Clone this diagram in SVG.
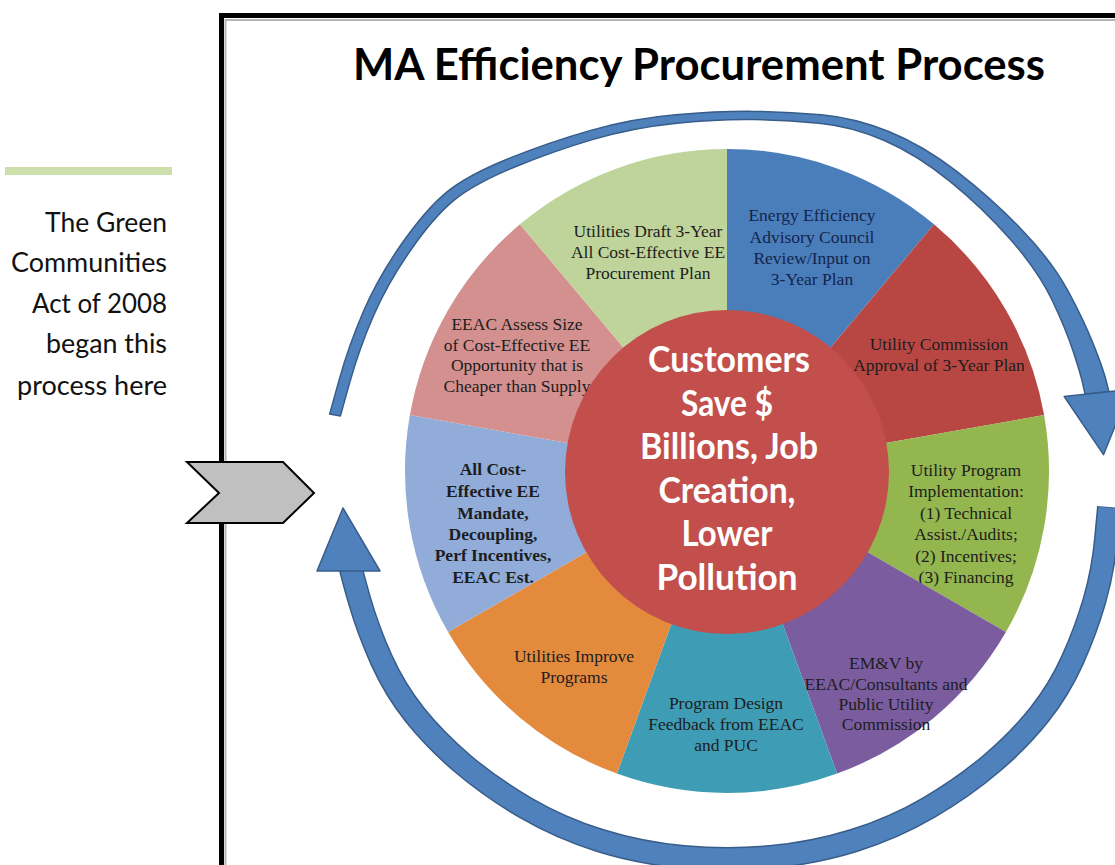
<svg xmlns="http://www.w3.org/2000/svg" width="1115" height="865" viewBox="0 0 1115 865">
  <defs>
    <style>
      .seg { font-family: "Liberation Serif", "Times New Roman", serif; font-size: 17.5px; fill: #1d1d1d; text-anchor: middle; }
      .seg.navy { fill: #15244a; }
      .seg.b { font-weight: bold; }
      .hub { font-family: Lato, "Open Sans", sans-serif; font-weight: 700; font-size: 36px; fill: #ffffff; text-anchor: middle; }
      .note { font-family: Lato, "Open Sans", sans-serif; font-size: 27px; fill: #111111; text-anchor: end; }
      .title { font-family: Lato, "Open Sans", sans-serif; font-weight: 700; font-size: 44px; fill: #000000; }
      .flow { fill: #4f81bd; stroke: #385d8a; stroke-width: 1.5; stroke-linejoin: round; }
    </style>
  </defs>

  <rect width="1115" height="865" fill="#ffffff"/>

  <!-- page frame -->
  <g id="frame">
    <path d="M225.5,865 V20 H1115" fill="none" stroke="#b4b4b4" stroke-width="2"/>
    <path d="M221.5,865 V15.5 H1115" fill="none" stroke="#000000" stroke-width="5"/>
  </g>

  <!-- side note -->
  <g id="note">
    <rect x="5" y="167" width="167" height="8" fill="#cddfaa"/>
    <text class="note" x="167" y="232" textLength="122" lengthAdjust="spacingAndGlyphs">The Green</text>
    <text class="note" x="167" y="272" textLength="156" lengthAdjust="spacingAndGlyphs">Communities</text>
    <text class="note" x="167" y="313" textLength="135" lengthAdjust="spacingAndGlyphs">Act of 2008</text>
    <text class="note" x="167" y="353" textLength="121" lengthAdjust="spacingAndGlyphs">began this</text>
    <text class="note" x="167" y="395" textLength="150" lengthAdjust="spacingAndGlyphs">process here</text>
  </g>

  <g id="title">
    <text class="title" x="353" y="80" textLength="692" lengthAdjust="spacingAndGlyphs">MA Efficiency Procurement Process</text>
  </g>

  <!-- cycle arrows -->
  <g id="connectors">
    <path class="flow" d="M329.6,414.1 L339.2,379.65 Q348.8,345.2 363.5,311.2 Q378.2,277.2 402.05,243.25 Q425.9,209.3 446.15,192.55 Q466.4,175.8 507.05,159.2 Q547.7,142.6 589.8,130.6 Q631.9,118.6 675.95,114.8 Q720,111 753.85,111.4 Q787.7,111.8 821.1,114.8 Q854.5,117.8 888.65,131.5 Q922.8,145.2 957.05,171.7 Q991.3,198.2 1021.5,229.5 Q1051.7,260.8 1067.85,290.7 Q1084,320.6 1093.6,344.9 Q1103.2,369.2 1106.05,380.45 L1108.9,391.7 L1085.1,394.3 L1082.95,384.55 Q1080.8,374.8 1073.4,352.1 Q1066,329.4 1052.15,300.3 Q1038.3,271.2 1010.5,239.5 Q982.7,207.8 949.95,181.3 Q917.2,154.8 884.35,140.5 Q851.5,126.2 818.9,123.2 Q786.3,120.2 753.15,119.6 Q720,119 677.05,123.2 Q634.1,127.4 593.2,139.4 Q552.3,151.4 512.95,167.8 Q473.6,184.2 453.85,200.45 Q434.1,216.7 410.95,249.75 Q387.8,282.8 373.5,315.8 Q359.2,348.8 349.8,382.35 L340.4,415.9 Z"/>
    <polygon class="flow" points="1064.2,396.5 1129.8,389.5 1103.5,454.7"/>

    <path d="M1109,507 L1106,539 Q1103,571 1094.5,600.5 Q1086,630 1072.5,660 Q1059,690 1039,715 Q1019,740 991.5,763.5 Q964,787 929,807.5 Q894,828 854,840.5 Q814,853 770.5,857 Q727,861 683.5,857 Q640,853 600,840.5 Q560,828 525,807.5 Q490,787 462.5,763.5 Q435,740 415,715 Q395,690 381.5,660 Q368,630 359.5,600.5 Q351,571 349,560" fill="none" stroke="#385d8a" stroke-width="24"/>
    <path d="M1109,507.8 L1106,539 Q1103,571 1094.5,600.5 Q1086,630 1072.5,660 Q1059,690 1039,715 Q1019,740 991.5,763.5 Q964,787 929,807.5 Q894,828 854,840.5 Q814,853 770.5,857 Q727,861 683.5,857 Q640,853 600,840.5 Q560,828 525,807.5 Q490,787 462.5,763.5 Q435,740 415,715 Q395,690 381.5,660 Q368,630 359.5,600.5 Q351,571 349,560" fill="none" stroke="#4f81bd" stroke-width="21"/>
    <polygon class="flow" points="317,571 380,571 343,508"/>
  </g>

  <!-- start marker -->
  <g id="start-chevron">
    <polygon points="187,462 283,462 314,493 283,523 187,523 219,493" fill="#c0c0c0" stroke="#000000" stroke-width="2" stroke-linejoin="miter"/>
  </g>

  <!-- process steps -->
  <g id="step-eeac-review">
    <path d="M727,471 L727,149 A322,322 0 0 1 934,224.3 Z" fill="#4a7ebb"/>
    <text class="seg navy" x="812" y="221">Energy Efficiency</text>
    <text class="seg navy" x="812" y="243">Advisory Council</text>
    <text class="seg navy" x="812" y="264">Review/Input on</text>
    <text class="seg navy" x="812" y="285">3-Year Plan</text>
  </g>
  <g id="step-commission-approval">
    <path d="M727,471 L934,224.3 A322,322 0 0 1 1044.1,415.1 Z" fill="#b84743"/>
    <text class="seg" x="939" y="350">Utility Commission</text>
    <text class="seg" x="939" y="371">Approval of 3-Year Plan</text>
  </g>
  <g id="step-implementation">
    <path d="M727,471 L1044.1,415.1 A322,322 0 0 1 1005.9,632 Z" fill="#93b64f"/>
    <text class="seg" x="966" y="476">Utility Program</text>
    <text class="seg" x="966" y="497">Implementation:</text>
    <text class="seg" x="966" y="519">(1) Technical</text>
    <text class="seg" x="966" y="540">Assist./Audits;</text>
    <text class="seg" x="966" y="562">(2) Incentives;</text>
    <text class="seg" x="966" y="583">(3) Financing</text>
  </g>
  <g id="step-emv">
    <path d="M727,471 L1005.9,632 A322,322 0 0 1 837.1,773.6 Z" fill="#7a5c9f"/>
    <text class="seg" x="886" y="669">EM&amp;V by</text>
    <text class="seg" x="886" y="690">EEAC/Consultants and</text>
    <text class="seg" x="886" y="710">Public Utility</text>
    <text class="seg" x="886" y="730">Commission</text>
  </g>
  <g id="step-design-feedback">
    <path d="M727,471 L837.1,773.6 A322,322 0 0 1 616.9,773.6 Z" fill="#3f9cb5"/>
    <text class="seg" x="726" y="709">Program Design</text>
    <text class="seg" x="726" y="730">Feedback from EEAC</text>
    <text class="seg" x="726" y="751">and PUC</text>
  </g>
  <g id="step-improve">
    <path d="M727,471 L616.9,773.6 A322,322 0 0 1 448.1,632 Z" fill="#e48a3d"/>
    <text class="seg" x="574" y="662">Utilities Improve</text>
    <text class="seg" x="574" y="683">Programs</text>
  </g>
  <g id="step-mandate">
    <path d="M727,471 L448.1,632 A322,322 0 0 1 409.9,415.1 Z" fill="#91acd8"/>
    <text class="seg b" x="493" y="475">All Cost-</text>
    <text class="seg b" x="493" y="497">Effective EE</text>
    <text class="seg b" x="493" y="519">Mandate,</text>
    <text class="seg b" x="493" y="540">Decoupling,</text>
    <text class="seg b" x="493" y="561">Perf Incentives,</text>
    <text class="seg b" x="493" y="583">EEAC Est.</text>
  </g>
  <g id="step-assess">
    <path d="M727,471 L409.9,415.1 A322,322 0 0 1 520,224.3 Z" fill="#d4908e"/>
    <text class="seg" x="517" y="330">EEAC Assess Size</text>
    <text class="seg" x="517" y="351">of Cost-Effective EE</text>
    <text class="seg" x="517" y="371">Opportunity that is</text>
    <text class="seg" x="517" y="392">Cheaper than Supply</text>
  </g>
  <g id="step-draft-plan">
    <path d="M727,471 L520,224.3 A322,322 0 0 1 727,149 Z" fill="#bfd49a"/>
    <text class="seg" x="648" y="237">Utilities Draft 3-Year</text>
    <text class="seg" x="648" y="258">All Cost-Effective EE</text>
    <text class="seg" x="648" y="279">Procurement Plan</text>
  </g>

  <!-- outcome hub -->
  <g id="hub">
    <circle cx="727" cy="472" r="162" fill="#c24f4c"/>
    <text class="hub" x="729" y="372" textLength="162" lengthAdjust="spacingAndGlyphs">Customers</text>
    <text class="hub" x="727" y="416" textLength="92" lengthAdjust="spacingAndGlyphs">Save $</text>
    <text class="hub" x="729" y="459" textLength="178" lengthAdjust="spacingAndGlyphs">Billions, Job</text>
    <text class="hub" x="727" y="503" textLength="137" lengthAdjust="spacingAndGlyphs">Creation,</text>
    <text class="hub" x="727" y="546" textLength="91" lengthAdjust="spacingAndGlyphs">Lower</text>
    <text class="hub" x="727" y="590" textLength="141" lengthAdjust="spacingAndGlyphs">Pollution</text>
  </g>
</svg>
